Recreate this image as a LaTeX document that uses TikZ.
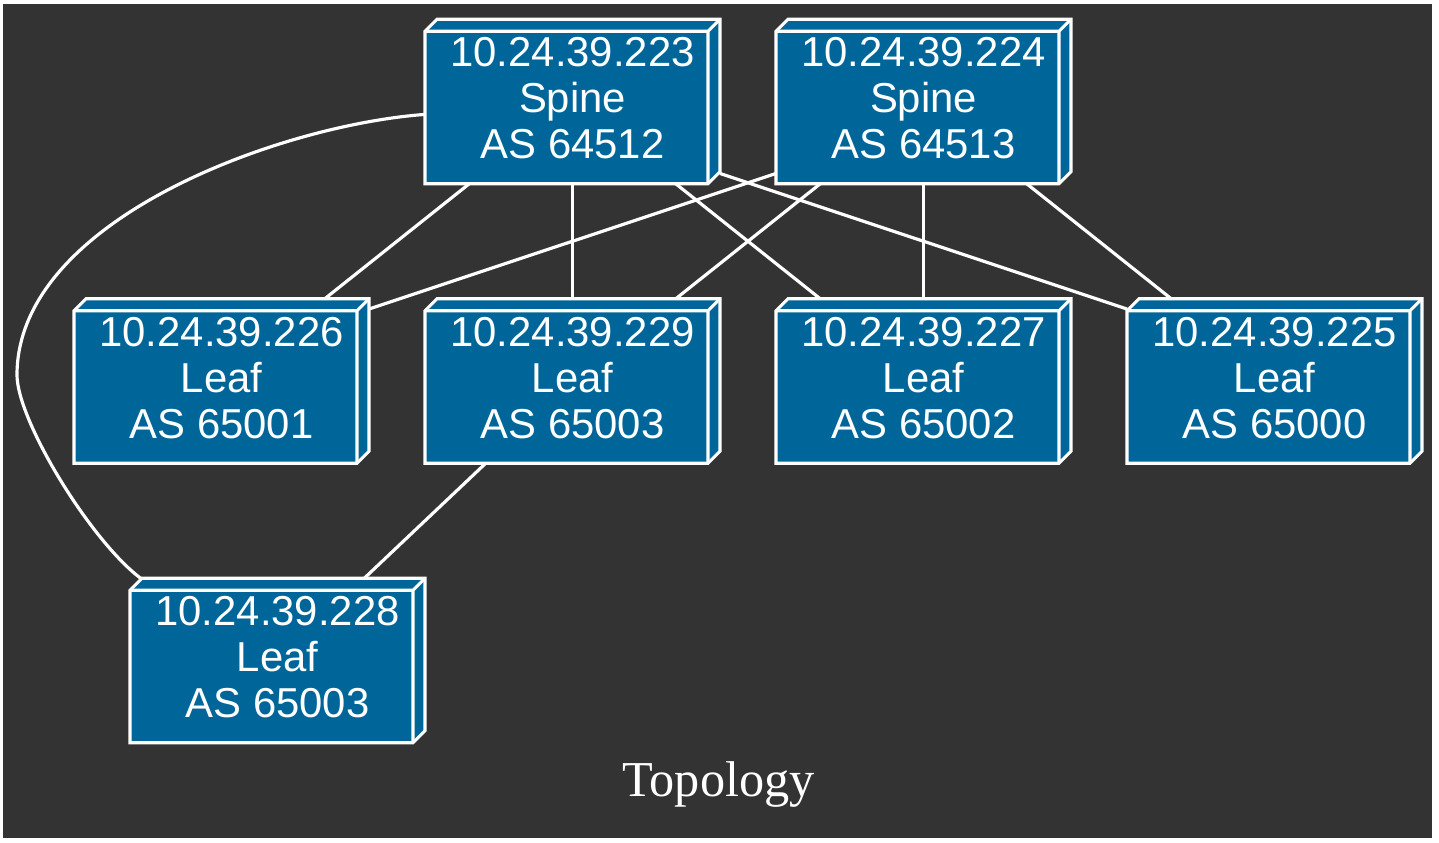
\documentclass[tikz,border=0pt]{standalone}
\usepackage{fontspec}
\setmainfont{Liberation Sans}
\newfontfamily\captionserif{Liberation Serif}
\usetikzlibrary{positioning}

\definecolor{boxblue}{HTML}{006699}
\definecolor{bgdark}{HTML}{333333}

\pgfdeclarelayer{bg}
\pgfdeclarelayer{boxes}
\pgfsetlayers{bg,boxes,main}

\newcommand\boxdepth{1.2mm}

\tikzset{
  netbox/.style={minimum width=2.95cm, minimum height=1.645cm, inner sep=0pt, outer sep=0pt,
    align=center, text=white, text depth=0.7mm, font=\fontsize{11.9}{13.1}\selectfont},
  boxface/.style={draw=white, fill=boxblue, line width=0.9pt, line join=miter},
  link/.style={draw=white, line width=0.9pt}
}

\begin{document}
\begin{tikzpicture}[node distance=0.56cm]
  \useasboundingbox (0,0) rectangle (14.39,8.42);
  \begin{pgfonlayer}{bg}
    \fill[bgdark] (0.03,0.04) rectangle (14.32,8.38);
  \end{pgfonlayer}

  % spines
  \node[netbox] (s223) at (5.725,7.405) {10.24.39.223\\Spine\\AS 64512};
  \node[netbox, right=of s223] (s224) {10.24.39.224\\Spine\\AS 64513};

  % leaves
  \node[netbox, below=1.15cm of s223] (l229) {10.24.39.229\\Leaf\\AS 65003};
  \node[netbox, left=of l229] (l226) {10.24.39.226\\Leaf\\AS 65001};
  \node[netbox, right=of l229] (l227) {10.24.39.227\\Leaf\\AS 65002};
  \node[netbox, right=of l227] (l225) {10.24.39.225\\Leaf\\AS 65000};
  \node[netbox, below=1.15cm of l226, xshift=0.56cm] (l228) {10.24.39.228\\Leaf\\AS 65003};

  \node[font=\captionserif\fontsize{14.3}{16}\selectfont, text=white, anchor=base] (title) at (7.185,0.453) {Topology};

  % box3d faces behind the labels
  \begin{pgfonlayer}{boxes}
    \foreach \n in {s223,s224,l226,l229,l227,l225,l228}{
      \draw[boxface] (\n.south west) -- ([yshift=-\boxdepth]\n.north west) -- ([xshift=\boxdepth]\n.north west)
        -- (\n.north east) -- ([yshift=\boxdepth]\n.south east) -- ([xshift=-\boxdepth]\n.south east) -- cycle;
      \draw[boxface, fill=none] ([yshift=-\boxdepth]\n.north west) -- ([xshift=-\boxdepth, yshift=-\boxdepth]\n.north east)
        -- ([xshift=-\boxdepth]\n.south east) ([xshift=-\boxdepth, yshift=-\boxdepth]\n.north east) -- (\n.north east);
    }
  \end{pgfonlayer}

  % links
  \draw[link] (s223) -- (l226);
  \draw[link] (s223) -- (l229);
  \draw[link] (s223) -- (l227);
  \draw[link] (s223.-26) -- (l225.154);
  \draw[link] (s224.206) -- (l226.26);
  \draw[link] (s224) -- (l229);
  \draw[link] (s224) -- (l227);
  \draw[link] (s224) -- (l225);
  \draw[link] (s223.185) .. controls (2.80,7.17) and (0.17,6.22) .. (0.17,4.67)
    .. controls (0.17,4.22) and (0.90,3.02) .. (l228.149);
  \draw[link] (l229) -- (l228);
\end{tikzpicture}
\end{document}
